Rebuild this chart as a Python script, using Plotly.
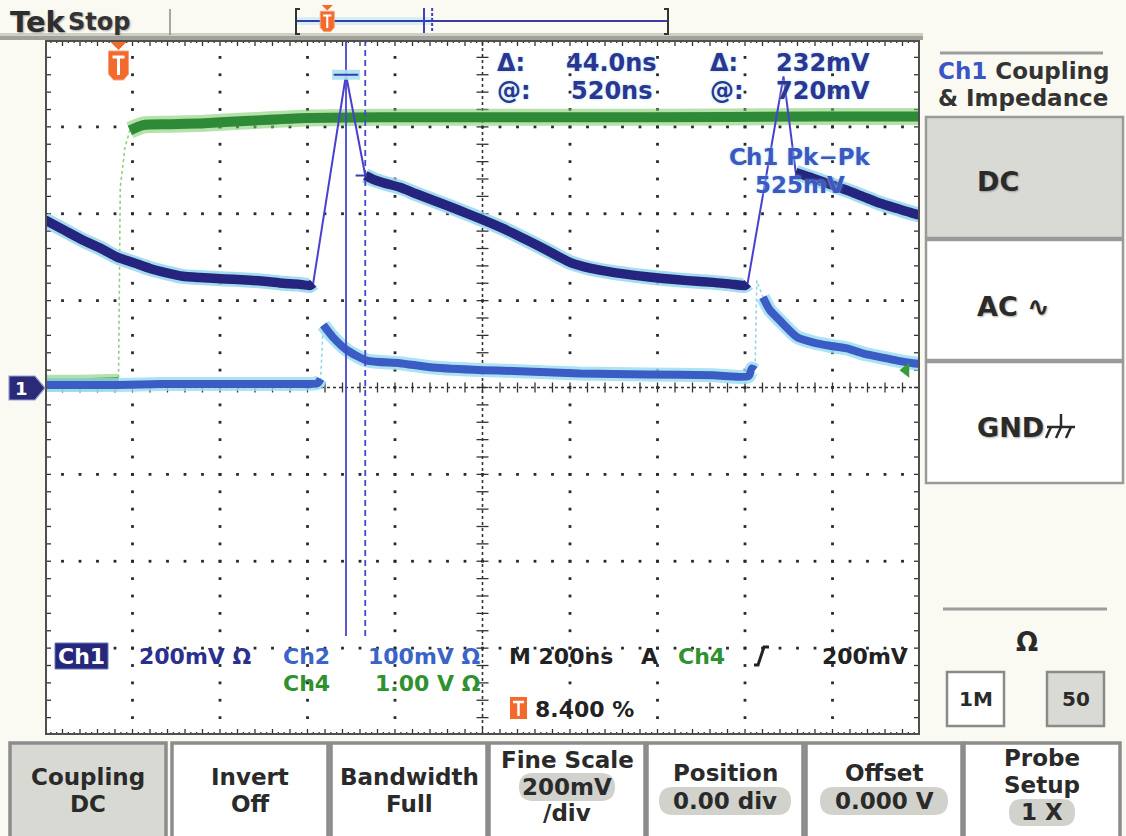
import plotly.graph_objects as go

W, H = 1126, 836
FONT = "DejaVu Sans"

# ---- acquisition settings -------------------------------------------------
NS_PER_DIV = 200
N_XDIV, N_YDIV = 10, 8
TRIG_POS_PCT = 8.4
T_LEFT = -TRIG_POS_PCT / 100 * N_XDIV * NS_PER_DIV      # -168 ns
T_RIGHT = T_LEFT + N_XDIV * NS_PER_DIV
CH1_SCALE = 200      # mV/div
CH2_SCALE = 100      # mV/div
CH4_SCALE = 1.0      # V/div
TRIG_LEVEL_MV = 200

# ---- waveforms ------------------------------------------------------------
ch1_t = [-168, -122, -81, -40, -3, 35, 72, 110, 147, 186, 225, 262, 301, 339, 376, 410, 438,
         445, 520, 564, 585, 610, 643, 680, 719, 758, 796, 833, 872, 902, 940, 979, 1005, 1032,
         1080, 1130, 1190, 1245, 1300, 1359, 1400, 1432, 1438, 1520, 1548, 1587, 1626, 1665,
         1703, 1741, 1780, 1816, 1832]
ch1_mv = [386, 361, 339, 320, 300, 287, 274, 264, 256, 253, 251, 249, 247, 244, 240, 238, 235,
          240, 720, 488, 478, 470, 461, 446, 431, 416, 401, 386, 369, 355, 336, 316, 302, 288,
          274, 265, 257, 251, 246, 242, 238, 235, 240, 716, 495, 482, 468, 454,
          439, 424, 412, 401, 397]

ch2_t = [-168, -100, 0, 100, 200, 300, 400, 455, 462, 468, 490, 522, 568, 643, 719, 833, 902,
         1055, 1208, 1359, 1440, 1448, 1455, 1459, 1473, 1489, 1512, 1551, 1587, 1626, 1665,
         1703, 1741, 1780, 1816, 1832]
ch2_mv = [3, 3, 3, 4, 4, 4, 4, 5, 10, 72, 58, 43, 31, 28, 23, 20, 19,
          16, 15, 14, 13, 22, 20, 123, 104, 89, 77, 58, 52, 48, 45,
          39, 35, 31, 28, 27]

ch4_t = [-168, -80, 0, 4, 15, 26, 56, 120, 186, 300, 415, 600, 800, 1200, 1600, 1832]
ch4_v = [0.05, 0.05, 0.06, 2.30, 2.77, 2.96, 3.02, 3.03, 3.04, 3.07, 3.10, 3.11, 3.11, 3.11, 3.12, 3.12]

cursor_t = [520, 564]
cursor_mv = [720, 488]
pk_pk_text = "525mV"

# ---- screen geometry (pixels) ---------------------------------------------
SX0, SX1, SY0, SY1 = 45, 920, 40, 735
DX = (SX1 - SX0) / N_XDIV
DY = (SY1 - SY0) / N_YDIV
SYC = (SY0 + SY1) / 2
NS_PER_PX = NS_PER_DIV / DX


def px(x):
    return x / W


def py(y):
    return 1 - y / H


def t_to_px(t):
    return SX0 + (t - T_LEFT) / NS_PER_PX


def P(x, y):
    return f"{x / W:.5f},{1 - y / H:.5f}"


def poly(pts, closed=True):
    d = "M " + " L ".join(P(x, y) for x, y in pts)
    return d + (" Z" if closed else "")


def rrect_path(x0, y0, x1, y1, r):
    return (f"M {P(x0 + r, y0)} L {P(x1 - r, y0)} Q {P(x1, y0)} {P(x1, y0 + r)} "
            f"L {P(x1, y1 - r)} Q {P(x1, y1)} {P(x1 - r, y1)} L {P(x0 + r, y1)} "
            f"Q {P(x0, y1)} {P(x0, y1 - r)} L {P(x0, y0 + r)} Q {P(x0, y0)} {P(x0 + r, y0)} Z")


shapes = []
annotations = []


def rect(x0, y0, x1, y1, fill=None, line=None, lw=0, layer="above"):
    shapes.append(dict(type="rect", xref="paper", yref="paper",
                       x0=px(x0), x1=px(x1), y0=py(y1), y1=py(y0),
                       fillcolor=fill or "rgba(0,0,0,0)",
                       line=dict(color=line or "rgba(0,0,0,0)", width=lw), layer=layer))


def path(d, fill=None, line=None, lw=0, dash=None, layer="above"):
    ln = dict(color=line or "rgba(0,0,0,0)", width=lw)
    if dash:
        ln["dash"] = dash
    shapes.append(dict(type="path", xref="paper", yref="paper", path=d,
                       fillcolor=fill or "rgba(0,0,0,0)", line=ln, layer=layer))


def seg(x0, y0, x1, y1, color, lw, dash=None):
    path(poly([(x0, y0), (x1, y1)], closed=False), line=color, lw=lw, dash=dash)


def txt(x, y, s, size, color, anchor="center", bold=True, shadow=None):
    annotations.append(dict(
        x=px(x), y=py(y), xref="paper", yref="paper", text=s, showarrow=False,
        xanchor=anchor, yanchor="middle",
        font=dict(family=FONT, size=size, color=color,
                  weight="bold" if bold else "normal", shadow=shadow or "none")))


def band(ts, vs, scale, steep=2.5):
    """Slow parts of a waveform (drawn thick); fast edges are left as gaps."""
    xs, ys = [], []
    for i in range(len(ts) - 1):
        dxp = (ts[i + 1] - ts[i]) / NS_PER_PX
        dyp = abs(vs[i + 1] - vs[i]) / scale * DY
        if dyp > steep * max(dxp, 1e-9):
            if xs and xs[-1] is not None:
                xs.append(None)
                ys.append(None)
        else:
            if not xs or xs[-1] is None:
                xs.append(ts[i])
                ys.append(vs[i] / scale)
            xs.append(ts[i + 1])
            ys.append(vs[i + 1] / scale)
    return xs, ys


fig = go.Figure()

# ---- graticule --------------------------------------------------------------
gx, gy = [], []
for d in range(1, N_XDIV):
    if d == N_XDIV // 2:
        continue
    for k in range(1, N_YDIV * 5):
        gx.append(T_LEFT + d * NS_PER_DIV)
        gy.append(-N_YDIV / 2 + k * 0.2)
for r in range(-N_YDIV // 2 + 1, N_YDIV // 2):
    if r == 0:
        continue
    for k in range(1, N_XDIV * 5):
        gx.append(T_LEFT + k * 0.2 * NS_PER_DIV)
        gy.append(r)
fig.add_trace(go.Scatter(x=gx, y=gy, mode="markers", hoverinfo="skip",
                         marker=dict(symbol="square", size=2.8, color="#2a2a2a")))

tx, ty = [], []
tcx = T_LEFT + N_XDIV / 2 * NS_PER_DIV
# cross ticks on centre lines
for k in range(1, N_XDIV * 5):
    x = T_LEFT + k * 0.2 * NS_PER_DIV
    tx += [x, x, None]
    ty += [-5 / DY, 5 / DY, None]
for k in range(1, N_YDIV * 5):
    y = -N_YDIV / 2 + k * 0.2
    tx += [tcx - 6 * NS_PER_PX, tcx + 6 * NS_PER_PX, None]
    ty += [y, y, None]
# frame ruler ticks
for k in range(1, N_XDIV * 15):
    x = T_LEFT + k * NS_PER_DIV / 15
    ln = 6 if k % 3 == 0 else 3
    tx += [x, x, None, x, x, None]
    ty += [N_YDIV / 2, N_YDIV / 2 - ln / DY, None, -N_YDIV / 2, -N_YDIV / 2 + ln / DY, None]
for k in range(1, N_YDIV * 5):
    y = -N_YDIV / 2 + k * 0.2
    tx += [T_LEFT, T_LEFT + 6 * NS_PER_PX, None, T_RIGHT, T_RIGHT - 6 * NS_PER_PX, None]
    ty += [y, y, None, y, y, None]
fig.add_trace(go.Scatter(x=tx, y=ty, mode="lines", hoverinfo="skip",
                         line=dict(color="#333333", width=1.3)))

shapes.append(dict(type="line", xref="x", yref="y", x0=T_LEFT, x1=T_RIGHT, y0=0, y1=0,
                   line=dict(color="#333333", width=1.6, dash="dot"), layer="below"))
shapes.append(dict(type="line", xref="x", yref="y", x0=tcx, x1=tcx, y0=-4, y1=4,
                   line=dict(color="#333333", width=1.6, dash="dot"), layer="below"))
shapes.append(dict(type="rect", xref="x", yref="y", x0=T_LEFT, x1=T_RIGHT, y0=-4, y1=4,
                   line=dict(color="#4f4f4f", width=4), layer="above"))


# ---- waveforms --------------------------------------------------------------
def add_channel(ts, vs, scale, halo, thin, core, hw, cw, tw, thin_dash=None):
    bx, by = band(ts, vs, scale)
    fig.add_trace(go.Scatter(x=bx, y=by, mode="lines", hoverinfo="skip", connectgaps=False,
                             line=dict(color=halo, width=hw, shape="spline", smoothing=0.6)))
    fig.add_trace(go.Scatter(x=ts, y=[v / scale for v in vs], mode="lines", hoverinfo="skip",
                             line=dict(color=thin, width=tw, dash=thin_dash)))
    fig.add_trace(go.Scatter(x=bx, y=by, mode="lines", hoverinfo="skip", connectgaps=False,
                             line=dict(color=core, width=cw, shape="spline", smoothing=0.6)))


add_channel(ch4_t, ch4_v, CH4_SCALE, "rgba(120,200,100,0.55)", "#8fcf7f", "#2f8a38",
            17, 10, 1.6, thin_dash="dot")
add_channel(ch2_t, ch2_mv, CH2_SCALE, "rgba(150,220,240,0.8)", "#8fd6ea", "#3b5cc4",
            14, 8, 1.6, thin_dash="dot")
add_channel(ch1_t, ch1_mv, CH1_SCALE, "rgba(150,215,235,0.85)", "#4a3fd0", "#25257f",
            15, 9.5, 2)

# cursors
cur_bottom = (SYC - 636) / DY
fig.add_trace(go.Scatter(x=[cursor_t[0]] * 2, y=[4, cur_bottom], mode="lines", hoverinfo="skip",
                         line=dict(color="#4646cc", width=1.8)))
fig.add_trace(go.Scatter(x=[cursor_t[1]] * 2, y=[4, cur_bottom], mode="lines", hoverinfo="skip",
                         line=dict(color="#4646cc", width=1.8, dash="6px,4px")))
c1y = cursor_mv[0] / CH1_SCALE
c2y = cursor_mv[1] / CH1_SCALE
fig.add_trace(go.Scatter(x=[cursor_t[0] - 32, cursor_t[0] + 32], y=[c1y, c1y], mode="lines",
                         hoverinfo="skip", line=dict(color="rgba(170,225,240,0.9)", width=10)))
fig.add_trace(go.Scatter(x=[cursor_t[0] - 28, cursor_t[0] + 28, None, cursor_t[1] - 22, cursor_t[1] + 4],
                         y=[c1y, c1y, None, c2y, c2y], mode="lines", hoverinfo="skip",
                         line=dict(color="#3a3ab8", width=2)))
# Ch4 trigger level indicator
fig.add_trace(go.Scatter(x=[T_RIGHT - 14 * NS_PER_PX], y=[TRIG_LEVEL_MV / 1000 / CH4_SCALE],
                         mode="markers", hoverinfo="skip",
                         marker=dict(symbol="triangle-left", size=13, color="#3a9a3a")))

# ---- top status bar ---------------------------------------------------------
rect(0, 33, 923, 36, fill="#cfcfc6")
rect(0, 36, 923, 40, fill="#a2a29a")
seg(170, 9, 170, 35, "#8a8a8a", 1.5)
txt(8, 22, "Tek", 29, "#2e2e2e", anchor="left", shadow="1px 1px 2px #9a9a9a")
txt(66, 22, "Stop", 24, "#333333", anchor="left", shadow="1px 1px 2px #aaaaaa")


def rec_x(t):
    return 296 + (t - T_LEFT) / (T_RIGHT - T_LEFT) * 372


rect(297, 17, rec_x(cursor_t[1]), 25, fill="#d4f0f6")
seg(296, 21, 668, 21, "#3a3aa8", 2)
path(poly([(300, 9), (296, 9), (296, 34), (300, 34)], closed=False), line="#333333", lw=2)
path(poly([(664, 9), (668, 9), (668, 34), (664, 34)], closed=False), line="#333333", lw=2)
seg(rec_x(cursor_t[0]), 8, rec_x(cursor_t[0]), 33, "#4040c0", 2)
seg(rec_x(cursor_t[1]), 8, rec_x(cursor_t[1]), 33, "#4040c0", 2, dash="3px,2px")


def trig_marker(cx, top, s):
    path(poly([(cx - 8 * s, top), (cx + 8 * s, top), (cx, top + 8 * s)]), fill="#f4692c")
    path(poly([(cx - 10 * s, top + 9 * s), (cx + 10 * s, top + 9 * s), (cx + 10 * s, top + 32 * s),
               (cx + 5 * s, top + 38 * s), (cx - 5 * s, top + 38 * s), (cx - 10 * s, top + 32 * s)]),
         fill="#f4692c", line="#f7a27a", lw=1)
    seg(cx - 6 * s, top + 15 * s, cx + 6 * s, top + 15 * s, "#ffffff", 3 * s)
    seg(cx, top + 15 * s, cx, top + 33 * s, "#ffffff", 3 * s)


trig_marker(t_to_px(0), 42, 1.0)
trig_marker(rec_x(0), 5, 0.7)

# Ch1 ground marker
path(poly([(9, 376), (35, 376), (45, 388), (35, 400), (9, 400)]),
     fill="#2a2a78", line="#8fa0d8", lw=1.2)
txt(21, 388, "1", 18, "#ffffff")

# ---- cursor readouts --------------------------------------------------------
glow = "0px 0px 3px #a8e2f0"
RC = "#2d3592"
txt(495, 63, "Δ:", 24, RC, anchor="left", shadow=glow)
txt(659, 63, f"{cursor_t[1] - cursor_t[0]:.1f}ns", 24, RC, anchor="right", shadow=glow)
txt(708, 63, "Δ:", 24, RC, anchor="left", shadow=glow)
txt(872, 63, f"{cursor_mv[0] - cursor_mv[1]}mV", 24, RC, anchor="right", shadow=glow)
txt(495, 91, "@:", 24, RC, anchor="left", shadow=glow)
txt(654, 91, f"{cursor_t[0]}ns", 24, RC, anchor="right", shadow=glow)
txt(708, 91, "@:", 24, RC, anchor="left", shadow=glow)
txt(872, 91, f"{cursor_mv[0]}mV", 24, RC, anchor="right", shadow=glow)
txt(800, 157, "Ch1 Pk−Pk", 23, "#3d58c0", shadow=glow)
txt(800, 185, pk_pk_text, 23, "#3d58c0", shadow=glow)

# ---- channel / timebase readouts -------------------------------------------
rect(55, 643, 108, 669, fill="#26267a", line="#6a78c0", lw=1)
txt(81, 656, "Ch1", 22, "#ffffff")
txt(137, 656, f"{CH1_SCALE}mV Ω", 22, "#2b2f90", anchor="left")
txt(281, 656, "Ch2", 22, "#3a64c8", anchor="left")
txt(483, 656, f"{CH2_SCALE}mV Ω", 22, "#3a64c8", anchor="right")
txt(507, 656, f"M {NS_PER_DIV}ns", 22, "#222222", anchor="left")
txt(649, 656, "A", 22, "#222222")
txt(676, 656, "Ch4", 22, "#2f9130", anchor="left")
path(poly([(754, 665), (758, 665), (764, 647), (769, 647)], closed=False), line="#222222", lw=3)
txt(910, 656, f"{TRIG_LEVEL_MV}mV", 22, "#222222", anchor="right")
txt(281, 683, "Ch4", 22, "#2f9130", anchor="left")
txt(483, 683, f"{CH4_SCALE:.2f} V Ω", 22, "#2f9130", anchor="right")
rect(510, 697, 527, 719, fill="#f4692c")
seg(513, 702, 524, 702, "#ffffff", 2.5)
seg(518.5, 702, 518.5, 716, "#ffffff", 2.5)
txt(533, 709, f"{TRIG_POS_PCT:.3f} %", 22, "#222222", anchor="left")

# ---- side menu --------------------------------------------------------------
seg(940, 53, 1103, 53, "#9c9c9c", 3)
txt(1023, 71, "<span style='color:#3a55c8'>Ch1</span> Coupling", 23, "#333333")
txt(1023, 98, "&amp; Impedance", 23, "#333333")
rect(926, 117, 1123, 238, fill="#dadad5", line="#9a9a9a", lw=2.5)
rect(926, 240, 1123, 360, fill="#ffffff", line="#9a9a9a", lw=2.5)
rect(926, 362, 1123, 483, fill="#ffffff", line="#9a9a9a", lw=2.5)
txt(975, 182, "DC", 27, "#2a2a2a", anchor="left", shadow="1px 1px 2px #999999")
txt(975, 306, "AC ∿", 27, "#2a2a2a", anchor="left", shadow="1px 1px 2px #aaaaaa")
txt(975, 427, "GND", 27, "#2a2a2a", anchor="left", shadow="1px 1px 2px #aaaaaa")
seg(1061, 414, 1061, 427, "#2a2a2a", 2.5)
seg(1047, 427, 1075, 427, "#2a2a2a", 2.5)
for lx in (1051, 1061, 1071):
    seg(lx, 427, lx - 5, 438, "#2a2a2a", 2.5)
seg(943, 609, 1107, 609, "#9c9c9c", 3)
txt(1027, 642, "Ω", 26, "#2a2a2a")
rect(947, 672, 1004, 726, fill="#ffffff", line="#8a8a8a", lw=2.5)
rect(1047, 672, 1104, 726, fill="#dadad5", line="#8a8a8a", lw=2.5)
txt(975.5, 699, "1M", 20, "#2a2a2a")
txt(1075.5, 699, "50", 20, "#2a2a2a")

# ---- bottom menu ------------------------------------------------------------
menu_left = [10, 172, 331, 489, 647, 806, 964]
menu_w = 156
MC = "#2a2a2a"
for i, lx in enumerate(menu_left):
    rect(lx, 743, lx + menu_w, 850, fill="#d9d9d3" if i == 0 else "#ffffff",
         line="#8c8c8c", lw=3.5)
cx = [lx + menu_w / 2 for lx in menu_left]
pill = "#d2d2cc"
path(rrect_path(cx[3] - 48, 773, cx[3] + 48, 801, 14), fill=pill)
path(rrect_path(cx[4] - 66, 787, cx[4] + 66, 815, 14), fill=pill)
path(rrect_path(cx[5] - 64, 787, cx[5] + 64, 815, 14), fill=pill)
path(rrect_path(cx[6] - 33, 799, cx[6] + 33, 826, 13), fill=pill)
txt(cx[0], 777, "Coupling", 23, MC)
txt(cx[0], 804, "DC", 23, MC)
txt(cx[1], 777, "Invert", 23, MC)
txt(cx[1], 804, "Off", 23, MC)
txt(cx[2], 777, "Bandwidth", 23, MC)
txt(cx[2], 804, "Full", 23, MC)
txt(cx[3], 760, "Fine Scale", 23, MC)
txt(cx[3], 787, f"{CH1_SCALE}mV", 23, MC)
txt(cx[3], 813, "/div", 23, MC)
txt(cx[4], 773, "Position", 23, MC)
txt(cx[4], 801, "0.00 div", 23, MC)
txt(cx[5], 773, "Offset", 23, MC)
txt(cx[5], 801, "0.000 V", 23, MC)
txt(cx[6], 758, "Probe", 23, MC)
txt(cx[6], 785, "Setup", 23, MC)
txt(cx[6], 812, "1 X", 23, MC)

fig.update_layout(
    width=W, height=H, margin=dict(l=0, r=0, t=0, b=0),
    paper_bgcolor="#fafaf2", plot_bgcolor="#ffffff", showlegend=False,
    xaxis=dict(domain=[px(SX0), px(SX1)], range=[T_LEFT, T_RIGHT], showgrid=False,
               zeroline=False, showticklabels=False, ticks="", fixedrange=True),
    yaxis=dict(domain=[py(SY1), py(SY0)], range=[-N_YDIV / 2, N_YDIV / 2], showgrid=False,
               zeroline=False, showticklabels=False, ticks="", fixedrange=True),
    shapes=shapes, annotations=annotations,
)

fig.write_html("out.html")
